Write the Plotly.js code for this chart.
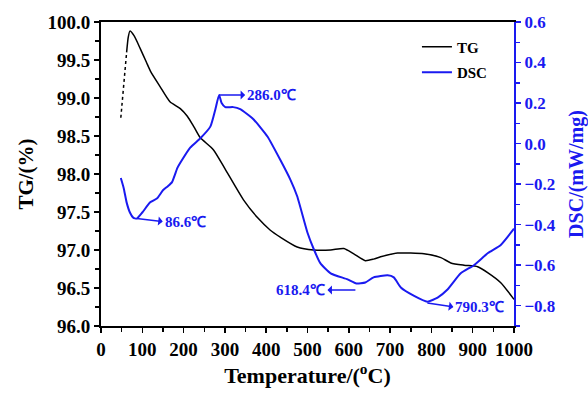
<!DOCTYPE html>
<html>
<head>
<meta charset="utf-8">
<script src="https://cdn.plot.ly/plotly-3.0.1.min.js"></script>
<style>html,body{margin:0;padding:0;background:#fff;}#chart{width:588px;height:393px;}</style>
</head>
<body>
<div id="chart"></div>
<script>
// TG curve: initial dotted rise, then solid
const tgStartT = [48, 51, 54, 57, 60, 62];
const tgStartV = [98.74, 98.95, 99.15, 99.33, 99.5, 99.6];
const tgT = [62, 66, 70, 80, 95, 110, 120, 143, 167, 192, 209, 225, 240, 272, 300, 345, 380, 410, 434, 475, 515, 556, 588, 612, 640, 660, 677, 718, 750, 782, 823, 847, 879, 912, 937, 968, 1000];
const tgV = [99.6, 99.8, 99.88, 99.82, 99.65, 99.47, 99.35, 99.15, 98.95, 98.86, 98.76, 98.62, 98.48, 98.32, 98.07, 97.66, 97.42, 97.26, 97.17, 97.04, 97.0, 97.0, 97.02, 96.95, 96.86, 96.88, 96.91, 96.96, 96.96, 96.95, 96.9, 96.83, 96.8, 96.78, 96.7, 96.57, 96.35];
// DSC curve
const dscT = [48, 55, 62, 70, 78, 86.6, 100, 119, 136, 150, 162, 172, 185, 192, 216, 240, 265, 277, 286, 292, 301, 320, 337, 369, 403, 434, 459, 475, 500, 515, 531, 556, 597, 618.4, 640, 660, 694, 709, 726, 757, 790.3, 815, 839, 871, 903, 937, 968, 1000];
const dscV = [-0.17, -0.22, -0.29, -0.34, -0.365, -0.37, -0.34, -0.29, -0.27, -0.23, -0.21, -0.19, -0.12, -0.095, -0.02, 0.025, 0.085, 0.17, 0.24, 0.2, 0.18, 0.18, 0.17, 0.12, 0.035, -0.08, -0.18, -0.26, -0.44, -0.52, -0.59, -0.64, -0.67, -0.69, -0.685, -0.66, -0.65, -0.66, -0.71, -0.75, -0.78, -0.76, -0.72, -0.64, -0.6, -0.54, -0.5, -0.42];
// Peak labels
const peakLabels = ['86.6℃', '286.0℃', '618.4℃', '790.3℃'];
const peakT = [86.6, 286, 616, 790.3];
const peakV = [-0.37, 0.24, -0.722, -0.786];

const BLUE = '#1a1af0';
const FONT = '"Liberation Serif", "Times New Roman", serif';

const traces = [
  {x: tgStartT, y: tgStartV, mode: 'lines', line: {color: '#000', width: 1.5, dash: 'dot'}, showlegend: false, legendgroup: 'tg', hoverinfo: 'skip'},
  {x: tgT, y: tgV, mode: 'lines', name: 'TG', line: {color: '#000', width: 1.5, shape: 'spline', smoothing: 0.6}, legendgroup: 'tg'},
  {x: dscT, y: dscV, mode: 'lines', name: 'DSC', yaxis: 'y2', line: {color: BLUE, width: 2, shape: 'spline', smoothing: 0.5}, legendgroup: 'dsc'}
];

const offsets = [[26, 3, 'left'], [26, 0, 'left'], [-28, 0, 'right'], [26, 4, 'left']];
const annotations = peakLabels.map((t, i) => ({
  x: peakT[i], y: peakV[i], xref: 'x', yref: 'y2', text: t,
  showarrow: true, arrowside: 'start', arrowhead: 2, arrowsize: 1, arrowwidth: 1.5, arrowcolor: BLUE,
  ax: offsets[i][0], ay: offsets[i][1], xanchor: offsets[i][2], yanchor: 'middle',
  font: {family: FONT, size: 15, color: BLUE, weight: 'bold'}
}));

const layout = {
  width: 588, height: 393,
  margin: {l: 101, r: 74, t: 22, b: 67},
  paper_bgcolor: '#fff', plot_bgcolor: '#fff',
  showlegend: true,
  legend: {x: 0.765, y: 0.972, xanchor: 'left', yanchor: 'top', bgcolor: 'rgba(0,0,0,0)', tracegroupgap: 3,
           font: {family: FONT, size: 15, color: '#000', weight: 'bold'}},
  xaxis: {
    range: [0, 1000], dtick: 100, tick0: 0, ticks: 'outside', ticklen: 5, tickwidth: 1.5, tickcolor: '#000',
    minor: {dtick: 50, ticks: 'outside', ticklen: 4, tickwidth: 1.5, tickcolor: '#000'},
    showline: true, linecolor: '#000', linewidth: 2, mirror: true, showgrid: false, zeroline: false,
    tickfont: {family: FONT, size: 19, color: '#000', weight: 'bold'},
    title: {text: 'Temperature/(<sup>o</sup>C)', standoff: 8, font: {family: FONT, size: 22, color: '#000', weight: 'bold'}}
  },
  yaxis: {
    range: [96, 100], dtick: 0.5, tick0: 96, tickformat: '.1f', ticks: 'outside', ticklen: 5, tickwidth: 1.5, tickcolor: '#000',
    minor: {dtick: 0.25, ticks: 'outside', ticklen: 4, tickwidth: 1.5, tickcolor: '#000'},
    showline: true, linecolor: '#000', linewidth: 2, showgrid: false, zeroline: false,
    tickfont: {family: FONT, size: 19, color: '#000', weight: 'bold'},
    title: {text: 'TG/(%)', standoff: 8, font: {family: FONT, size: 21, color: '#000', weight: 'bold'}}
  },
  yaxis2: {
    overlaying: 'y', side: 'right', anchor: 'x',
    range: [-0.9, 0.6], dtick: 0.2, tick0: 0, tickformat: '.1f', ticks: 'outside', ticklen: 5, tickwidth: 1.5, tickcolor: BLUE,
    minor: {dtick: 0.1, ticks: 'outside', ticklen: 4, tickwidth: 1.5, tickcolor: BLUE},
    showline: true, linecolor: BLUE, linewidth: 2, showgrid: false, zeroline: false,
    tickfont: {family: FONT, size: 17, color: BLUE, weight: 'bold'},
    title: {text: 'DSC/(mW/mg)', standoff: 14, font: {family: FONT, size: 20, color: BLUE, weight: 'bold'}}
  },
  annotations: annotations
};

Plotly.newPlot('chart', traces, layout, {displayModeBar: false, staticPlot: true});
</script>
</body>
</html>
